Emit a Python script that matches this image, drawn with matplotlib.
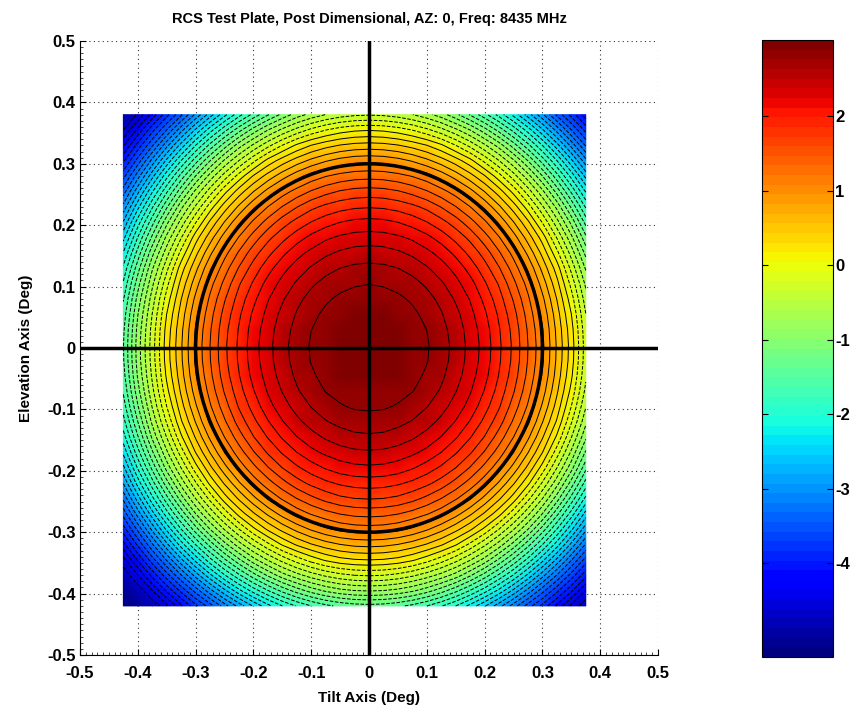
import numpy as np
import matplotlib
matplotlib.use("Agg")
import matplotlib.pyplot as plt

plt.rcParams["font.family"] = ["Liberation Sans", "DejaVu Sans"]
plt.rcParams["font.weight"] = "bold"
plt.rcParams["axes.unicode_minus"] = False

# scan grid (deg)
tilt_deg = np.arange(-0.425, 0.376, 0.025)
elev_deg = np.arange(-0.42, 0.381, 0.025)

# radial RCS profile about boresight (dB)
profile_radius = [0.0, 0.05, 0.10, 0.15, 0.20, 0.25, 0.30, 0.35, 0.40, 0.45, 0.50, 0.55, 0.60, 0.65]
profile_db = [3.00, 2.95, 2.80, 2.55, 2.18, 1.68, 1.05, 0.22, -0.85, -2.10, -3.45, -4.60, -5.28, -5.80]

beam_circle_radius = 0.3
color_limits = (-5.26, 3.02)
cbar_ticks = [-4, -3, -2, -1, 0, 1, 2]

X, Y = np.meshgrid(tilt_deg, elev_deg)
Z = np.interp(np.hypot(X, Y), profile_radius, profile_db)

fig = plt.figure(figsize=(8.54, 7.14), dpi=100)
ax = fig.add_axes([0.0937, 0.0826, 0.6768, 0.86])
cax = fig.add_axes([0.892, 0.0798, 0.083, 0.864])

jet = plt.get_cmap("jet", 64)
mesh = ax.pcolormesh(X, Y, Z, shading="gouraud", cmap=jet,
                     vmin=color_limits[0], vmax=color_limits[1])
levels = 2.78 - 0.177 * np.arange(43)[::-1]
ax.contour(X, Y, Z, levels=levels, colors="k", linewidths=0.7)

t = np.linspace(0, 2 * np.pi, 120)
ax.plot(beam_circle_radius * np.cos(t), beam_circle_radius * np.sin(t), color="k", lw=2.5)
ax.axhline(0, color="k", lw=2.5)
ax.axvline(0, color="k", lw=2.5)

ax.set_xlim(-0.5, 0.5)
ax.set_ylim(-0.5, 0.5)
ticks = np.round(np.arange(-0.5, 0.51, 0.1), 1) + 0.0
ax.set_xticks(ticks)
ax.set_yticks(ticks)
ax.set_xticklabels([f"{v:g}" for v in ticks])
ax.set_yticklabels([f"{v:g}" for v in ticks])
ax.set_xticks(np.arange(-0.5, 0.501, 0.01), minor=True)
ax.set_yticks(np.arange(-0.5, 0.501, 0.01), minor=True)
ax.tick_params(which="major", direction="in", length=4, top=False, right=False,
               labelsize=12, width=0.8, pad=3)
ax.tick_params(axis="x", which="major", pad=8)
ax.tick_params(which="minor", direction="in", length=2, top=False, right=False, width=0.5)
ax.spines["top"].set_visible(False)
ax.spines["right"].set_visible(False)
ax.set_axisbelow(True)
ax.grid(True, linestyle=(0, (1, 3)), color="0.2", linewidth=0.8)

ax.set_xlabel("Tilt Axis (Deg)", fontsize=11, fontweight="bold", labelpad=7)
ax.set_ylabel("Elevation Axis (Deg)", fontsize=11, fontweight="bold", labelpad=10)
ax.set_title("RCS Test Plate, Post Dimensional, AZ: 0, Freq: 8435 MHz",
             fontsize=10.5, fontweight="bold", pad=13)

cb = fig.colorbar(mesh, cax=cax, ticks=cbar_ticks)
cb.ax.tick_params(direction="in", length=4, left=True, right=True, labelsize=12, pad=2)
cb.outline.set_linewidth(0.8)

fig.savefig("out.png", dpi=100)
